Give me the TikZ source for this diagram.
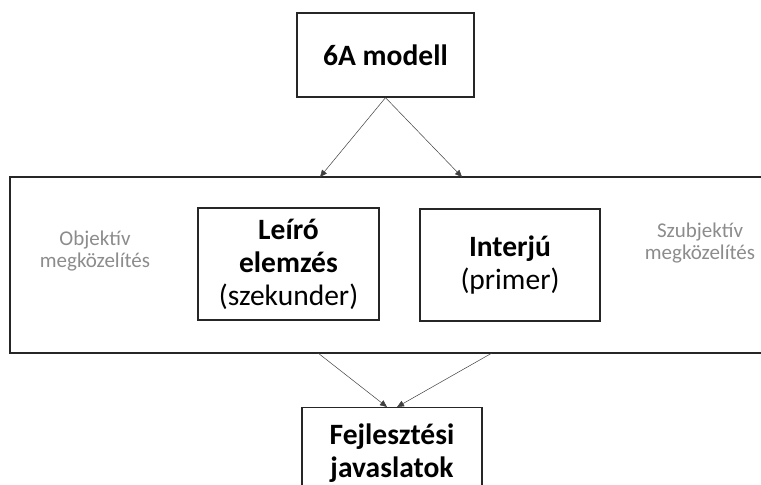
\documentclass[tikz,border=0pt]{standalone}
\usepackage{fontspec}
\setmainfont{Carlito}
\usepackage{tikz}
\usetikzlibrary{positioning, calc, arrows.meta}

\begin{document}
\begin{tikzpicture}[
    x=1pt, y=-1pt,
    box/.style={rectangle, draw=black!85, line width=1.3pt, align=center, inner sep=0pt},
    main_font/.style={font=\fontsize{29.5}{33}\selectfont},
    side_note/.style={font=\fontsize{21}{22.5}\selectfont, align=center, text=black!45},
    flow_arrow/.style={-{Triangle[length=7pt, width=6pt]}, line width=0.5pt, draw=black!75}
]
    \clip (0,0) rectangle (761,485);

    % Dobozok
    \node[box, main_font, minimum width=177pt, minimum height=84pt] (model) at (385.5,55) {\textbf{6A modell}};
    \node[box, minimum width=765pt, minimum height=176pt] (frame) at (392.5,265) {};
    \node[box, main_font, minimum width=181pt, minimum height=112pt] (leiro) at (288.5,264)
        {\textbf{Leíró}\\\textbf{elemzés}\\(szekunder)};
    \node[box, main_font, minimum width=180pt, minimum height=112pt] (interju) at (510,265)
        {\textbf{Interjú}\\(primer)};
    \node[box, main_font, anchor=north, inner ysep=16pt, minimum width=180pt] (fejl) at (392,407)
        {\textbf{Fejlesztési}\\\textbf{javaslatok}};

    % Oldalsó feliratok
    \node[side_note] (obj) at (95,251) {Objektív\\megközelítés};
    \node[side_note] (szub) at (700,243) {Szubjektív\\megközelítés};

    % Nyilak
    \coordinate (in_left) at (320,177);
    \coordinate (in_right) at (462,177);
    \coordinate (out_left) at (318,353);
    \coordinate (out_right) at (492,353);
    \draw[flow_arrow] (model.south) -- (in_left);
    \draw[flow_arrow] (model.south) -- (in_right);
    \draw[flow_arrow] (out_left) -- ([xshift=-5pt]fejl.north);
    \draw[flow_arrow] (out_right) -- ([xshift=5pt]fejl.north);
\end{tikzpicture}
\end{document}
